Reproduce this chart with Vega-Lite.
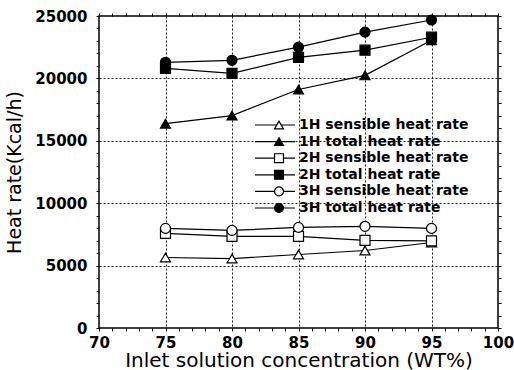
{
  "$schema": "https://vega.github.io/schema/vega-lite/v6.json",
  "autosize": {"type": "none"},
  "width": 399,
  "height": 312,
  "padding": {"left": 99, "top": 16, "right": 16, "bottom": 42},
  "background": "white",
  "config": {
    "view": {"stroke": "black", "strokeWidth": 1.5},
    "font": "DejaVu Sans",
    "axis": {"labelFont": "DejaVu Sans", "titleFont": "DejaVu Sans", "labelColor": "black", "titleColor": "black", "domain": false}
  },
  "data": {"values": [
    {"x": 75, "y": 5650, "series": "1H sensible heat rate"},
    {"x": 80, "y": 5560, "series": "1H sensible heat rate"},
    {"x": 85, "y": 5890, "series": "1H sensible heat rate"},
    {"x": 90, "y": 6210, "series": "1H sensible heat rate"},
    {"x": 95, "y": 6850, "series": "1H sensible heat rate"},
    {"x": 75, "y": 16370, "series": "1H total heat rate"},
    {"x": 80, "y": 17020, "series": "1H total heat rate"},
    {"x": 85, "y": 19110, "series": "1H total heat rate"},
    {"x": 90, "y": 20240, "series": "1H total heat rate"},
    {"x": 95, "y": 23060, "series": "1H total heat rate"},
    {"x": 75, "y": 7580, "series": "2H sensible heat rate"},
    {"x": 80, "y": 7340, "series": "2H sensible heat rate"},
    {"x": 85, "y": 7340, "series": "2H sensible heat rate"},
    {"x": 90, "y": 7020, "series": "2H sensible heat rate"},
    {"x": 95, "y": 6980, "series": "2H sensible heat rate"},
    {"x": 75, "y": 20800, "series": "2H total heat rate"},
    {"x": 80, "y": 20400, "series": "2H total heat rate"},
    {"x": 85, "y": 21690, "series": "2H total heat rate"},
    {"x": 90, "y": 22260, "series": "2H total heat rate"},
    {"x": 95, "y": 23300, "series": "2H total heat rate"},
    {"x": 75, "y": 7980, "series": "3H sensible heat rate"},
    {"x": 80, "y": 7820, "series": "3H sensible heat rate"},
    {"x": 85, "y": 8060, "series": "3H sensible heat rate"},
    {"x": 90, "y": 8150, "series": "3H sensible heat rate"},
    {"x": 95, "y": 7980, "series": "3H sensible heat rate"},
    {"x": 75, "y": 21290, "series": "3H total heat rate"},
    {"x": 80, "y": 21450, "series": "3H total heat rate"},
    {"x": 85, "y": 22500, "series": "3H total heat rate"},
    {"x": 90, "y": 23710, "series": "3H total heat rate"},
    {"x": 95, "y": 24680, "series": "3H total heat rate"}
  ]},
  "layer": [
    {
      "mark": {"type": "line", "strokeWidth": 1.2},
      "encoding": {
        "x": {"field": "x", "type": "quantitative", "scale": {"domain": [70, 100], "nice": false},
          "axis": {"orient": "bottom", "values": [70,71,72,73,74,75,76,77,78,79,80,81,82,83,84,85,86,87,88,89,90,91,92,93,94,95,96,97,98,99,100],
            "format": "d", "labelExpr": "datum.value % 5 === 0 ? datum.label : ''", "labelOverlap": false, "labelFlush": false,
            "ticks": true, "tickSize": 3, "tickColor": "black", "tickWidth": 1,
            "labelFontSize": 15, "labelFontWeight": "bold", "labelPadding": 4,
            "title": "Inlet solution concentration (WT%)", "titleFontSize": 20, "titleFontWeight": "normal", "titlePadding": 0,
            "grid": true, "gridColor": "#222", "gridDash": [2, 2], "gridWidth": 1,
            "gridOpacity": {"condition": {"test": "datum.value % 5 === 0 && datum.value > 70 && datum.value < 100", "value": 1}, "value": 0}}},
        "y": {"field": "y", "type": "quantitative", "scale": {"domain": [0, 25000], "nice": false},
          "axis": {"orient": "left", "values": [0,1000,2000,3000,4000,5000,6000,7000,8000,9000,10000,11000,12000,13000,14000,15000,16000,17000,18000,19000,20000,21000,22000,23000,24000,25000],
            "format": "d", "labelExpr": "datum.value % 5000 === 0 ? datum.label : ''", "labelOverlap": false, "labelFlush": false,
            "ticks": true, "tickSize": 3, "tickColor": "black", "tickWidth": 1,
            "labelFontSize": 15, "labelFontWeight": "bold", "labelPadding": 9,
            "title": "Heat rate(Kcal/h)", "titleFontSize": 19, "titleFontWeight": "normal", "titlePadding": 10,
            "grid": true, "gridColor": "#222", "gridDash": [2, 2], "gridWidth": 1,
            "gridOpacity": {"condition": {"test": "datum.value % 5000 === 0 && datum.value > 0 && datum.value < 25000", "value": 1}, "value": 0}}},
        "color": {"field": "series", "type": "nominal",
          "scale": {"range": ["black", "black", "black", "black", "black", "black"]},
          "legend": {"orient": "none", "legendX": 169, "legendY": 102, "title": null, "padding": 0, "symbolType": "M-4,0H4", "symbolSize": 100, "symbolStrokeWidth": 1.2, "symbolStrokeColor": "black",
            "labelFont": "DejaVu Sans", "labelFontWeight": "bold", "labelFontSize": 14, "labelColor": "black", "labelOffset": 17, "labelLimit": 0, "rowPadding": 2.6}}
      }
    },
    {
      "mark": {"type": "point", "filled": false, "stroke": "black", "strokeWidth": 1.2, "size": 100, "opacity": 1},
      "encoding": {
        "x": {"field": "x", "type": "quantitative",
          "axis": {"orient": "top", "values": [70,71,72,73,74,75,76,77,78,79,80,81,82,83,84,85,86,87,88,89,90,91,92,93,94,95,96,97,98,99,100], "labels": false, "title": null, "grid": false, "ticks": true, "tickSize": 3, "tickColor": "black", "tickWidth": 1}},
        "y": {"field": "y", "type": "quantitative",
          "axis": {"orient": "right", "values": [0,1000,2000,3000,4000,5000,6000,7000,8000,9000,10000,11000,12000,13000,14000,15000,16000,17000,18000,19000,20000,21000,22000,23000,24000,25000], "labels": false, "title": null, "grid": false, "ticks": true, "tickSize": 3, "tickColor": "black", "tickWidth": 1}},
        "shape": {"field": "series", "type": "nominal",
          "scale": {"domain": ["1H sensible heat rate", "1H total heat rate", "2H sensible heat rate", "2H total heat rate", "3H sensible heat rate", "3H total heat rate"],
            "range": ["triangle-up", "triangle-up", "square", "square", "circle", "circle"]},
          "legend": {"orient": "none", "legendX": 173, "legendY": 102, "title": null, "padding": 0, "symbolSize": 80, "symbolStrokeWidth": 1.2, "symbolStrokeColor": "black", "symbolOpacity": 1,
            "labelFont": "DejaVu Sans", "labelFontWeight": "bold", "labelFontSize": 14, "labelOpacity": 0, "labelLimit": 0, "rowPadding": 2.6,
            "encoding": {"symbols": {"stroke": {"value": "black"}, "strokeWidth": {"value": 1.2}, "strokeOpacity": {"value": 1}}}}},
        "fill": {"field": "series", "type": "nominal",
          "scale": {"domain": ["1H sensible heat rate", "1H total heat rate", "2H sensible heat rate", "2H total heat rate", "3H sensible heat rate", "3H total heat rate"],
            "range": ["white", "black", "white", "black", "white", "black"]},
          "legend": {"orient": "none", "legendX": 173, "legendY": 102, "title": null, "padding": 0, "symbolSize": 80, "symbolStrokeWidth": 1.2, "symbolStrokeColor": "black", "symbolOpacity": 1,
            "labelFont": "DejaVu Sans", "labelFontWeight": "bold", "labelFontSize": 14, "labelOpacity": 0, "labelLimit": 0, "rowPadding": 2.6,
            "encoding": {"symbols": {"stroke": {"value": "black"}, "strokeWidth": {"value": 1.2}, "strokeOpacity": {"value": 1}}}}}
      }
    }
  ],
  "resolve": {"axis": {"x": "independent", "y": "independent"}}
}
